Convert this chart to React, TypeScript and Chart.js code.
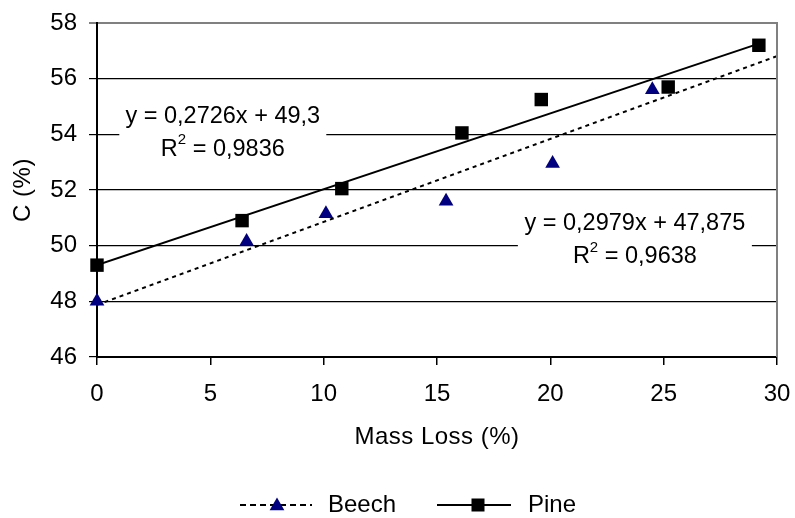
import React, { useEffect, useRef } from "react";
import { Chart, registerables } from "chart.js";

Chart.register(...registerables);

// ---- data ----
const beechX = [0, 6.6, 10.1, 15.4, 20.1, 24.5];
const beechY = [48.0, 50.15, 51.15, 51.6, 52.95, 55.6];
const pineX = [0, 6.4, 10.8, 16.1, 19.6, 25.2, 29.2];
const pineY = [49.3, 50.9, 52.05, 54.05, 55.25, 55.7, 57.2];

// trendlines: [slope, intercept], x range
const beechTrend = [0.2979, 47.875];
const beechTrendRange = [0, 30];
const pineTrend = [0.2726, 49.3];
const pineTrendRange = [0, 29.2];

const seriesNames = ["Beech", "Pine"];
const pineEqText = ["y = 0,2726x + 49,3", "0,9836"];
const beechEqText = ["y = 0,2979x + 47,875", "0,9638"];
const pineEqAnchor = [5.55, 54.65];
const beechEqAnchor = [23.73, 50.78];

const xTitle = "Mass Loss (%)";
const yTitle = "C (%)";
const xRange = [0, 30, 5];
const yRange = [46, 58, 2];

const FONT = "'Liberation Sans', Arial, sans-serif";
const NAVY = "#000080";

function trendPts(coef: number[], range: number[]) {
  return range.map((x) => ({ x, y: coef[0] * x + coef[1] }));
}

function drawTriangle(ctx: CanvasRenderingContext2D, x: number, y: number, r: number) {
  ctx.beginPath();
  ctx.moveTo(x, y - r);
  ctx.lineTo(x + r * Math.sin(Math.PI / 3), y + r * 0.5);
  ctx.lineTo(x - r * Math.sin(Math.PI / 3), y + r * 0.5);
  ctx.closePath();
  ctx.fill();
}

const overlayPlugin = {
  id: "overlay",
  beforeDatasetsDraw(chart: any) {
    const { ctx, scales } = chart;
    const xs = scales.x;
    const ys = scales.y;
    const drawEq = (lines: string[], anchor: number[], boxW: number) => {
      const cx = xs.getPixelForValue(anchor[0]);
      const cy = ys.getPixelForValue(anchor[1]);
      ctx.save();
      ctx.fillStyle = "#fff";
      ctx.fillRect(cx - boxW / 2, cy - 22, boxW, 76);
      ctx.fillStyle = "#000";
      ctx.textBaseline = "middle";
      ctx.font = `23.5px ${FONT}`;
      ctx.textAlign = "center";
      ctx.fillText(lines[0], cx, cy);
      // R^2 line
      const a = "R";
      const b = " = " + lines[1];
      ctx.textAlign = "left";
      const wa = ctx.measureText(a).width;
      const wb = ctx.measureText(b).width;
      ctx.font = `15px ${FONT}`;
      const ws = ctx.measureText("2").width;
      const total = wa + ws + wb;
      let x0 = cx - total / 2;
      const y2 = cy + 33;
      ctx.font = `23.5px ${FONT}`;
      ctx.fillText(a, x0, y2);
      ctx.font = `15px ${FONT}`;
      ctx.fillText("2", x0 + wa, y2 - 9);
      ctx.font = `23.5px ${FONT}`;
      ctx.fillText(b, x0 + wa + ws, y2);
      ctx.restore();
    };
    drawEq(pineEqText, pineEqAnchor, 207);
    drawEq(beechEqText, beechEqAnchor, 234);
  },
  afterDraw(chart: any) {
    const { ctx, chartArea } = chart;
    ctx.save();
    // right plot border
    ctx.strokeStyle = "#808080";
    ctx.lineWidth = 2;
    ctx.beginPath();
    ctx.moveTo(chartArea.right, chartArea.top - 1);
    ctx.lineTo(chartArea.right, chartArea.bottom);
    ctx.stroke();
    // titles
    ctx.fillStyle = "#000";
    ctx.font = `24px ${FONT}`;
    (ctx as any).letterSpacing = "0.5px";
    ctx.textAlign = "center";
    ctx.textBaseline = "middle";
    ctx.fillText(xTitle, (chartArea.left + chartArea.right) / 2, 437);
    ctx.save();
    ctx.translate(23, (chartArea.top + chartArea.bottom) / 2);
    ctx.rotate(-Math.PI / 2);
    ctx.fillText(yTitle, 0, 0);
    ctx.restore();
    (ctx as any).letterSpacing = "0px";
    // legend
    const ly = 505;
    ctx.strokeStyle = "#000";
    ctx.lineWidth = 2;
    ctx.setLineDash([6, 4]);
    ctx.beginPath();
    ctx.moveTo(240, ly);
    ctx.lineTo(312, ly);
    ctx.stroke();
    ctx.setLineDash([]);
    ctx.fillStyle = NAVY;
    drawTriangle(ctx, 277, ly + 1, 8.5);
    ctx.fillStyle = "#000";
    ctx.textAlign = "left";
    ctx.fillText(seriesNames[0], 328, ly);
    ctx.beginPath();
    ctx.moveTo(437, ly);
    ctx.lineTo(511, ly);
    ctx.stroke();
    ctx.fillRect(478 - 6.5, ly - 6.5, 13, 13);
    ctx.fillText(seriesNames[1], 528, ly);
    ctx.restore();
  },
};

export default function App() {
  const ref = useRef<HTMLCanvasElement | null>(null);
  useEffect(() => {
    if (!ref.current) return;
    Chart.defaults.font.family = FONT;
    const chart = new Chart(ref.current, {
      type: "scatter",
      data: {
        datasets: [
          {
            label: seriesNames[0],
            data: beechX.map((x, i) => ({ x, y: beechY[i] })),
            pointStyle: "triangle",
            pointRadius: 8.5,
            backgroundColor: NAVY,
            borderColor: NAVY,
            borderWidth: 0,
            showLine: false,
            clip: false,
            order: 0,
          } as any,
          {
            label: seriesNames[1],
            data: pineX.map((x, i) => ({ x, y: pineY[i] })),
            pointStyle: "rect",
            pointRadius: 9.5,
            backgroundColor: "#000",
            borderColor: "#000",
            borderWidth: 0,
            showLine: false,
            clip: false,
            order: 0,
          } as any,
          {
            label: "Beech trend",
            data: trendPts(beechTrend, beechTrendRange),
            showLine: true,
            borderColor: "#000",
            borderWidth: 2,
            borderDash: [4, 4],
            pointRadius: 0,
            order: 1,
          } as any,
          {
            label: "Pine trend",
            data: trendPts(pineTrend, pineTrendRange),
            showLine: true,
            borderColor: "#000",
            borderWidth: 2,
            pointRadius: 0,
            order: 1,
          } as any,
        ],
      },
      options: {
        responsive: false,
        animation: false,
        layout: { padding: { top: 23, right: 18, left: 0, bottom: 0 } },
        plugins: {
          legend: { display: false },
          tooltip: { enabled: false },
          title: { display: false },
        },
        scales: {
          x: {
            type: "linear",
            min: xRange[0],
            max: xRange[1],
            afterFit: (s: any) => {
              s.height = 161;
              s.paddingLeft = 0;
              s.paddingRight = 0;
            },
            ticks: {
              stepSize: xRange[2],
              color: "#000",
              font: { size: 24, family: FONT },
              padding: 15,
              maxRotation: 0,
            },
            grid: {
              drawOnChartArea: false,
              drawTicks: true,
              tickLength: 8,
              color: "#000",
              lineWidth: 1.5,
            },
            border: { display: true, color: "#000", width: 2 },
          },
          y: {
            type: "linear",
            min: yRange[0],
            max: yRange[1],
            afterFit: (s: any) => {
              s.width = 97;
              s.paddingTop = 0;
              s.paddingBottom = 0;
            },
            ticks: {
              stepSize: yRange[2],
              color: "#000",
              font: { size: 24, family: FONT },
              padding: 12,
            },
            grid: {
              drawTicks: true,
              tickLength: 8,
              color: (c: any) => (c.tick && c.tick.value === yRange[1] ? "#808080" : "#000"),
              lineWidth: (c: any) => (c.tick && c.tick.value === yRange[1] ? 2 : 1.2),
            },
            border: { display: true, color: "#000", width: 2 },
          },
        },
      },
      plugins: [overlayPlugin],
    } as any);
    return () => chart.destroy();
  }, []);
  return (
    <div style={{ position: "fixed", left: 0, top: 0, width: 795, height: 518, background: "#fff" }}>
      <canvas ref={ref} width={795} height={518} style={{ display: "block" }} />
    </div>
  );
}
